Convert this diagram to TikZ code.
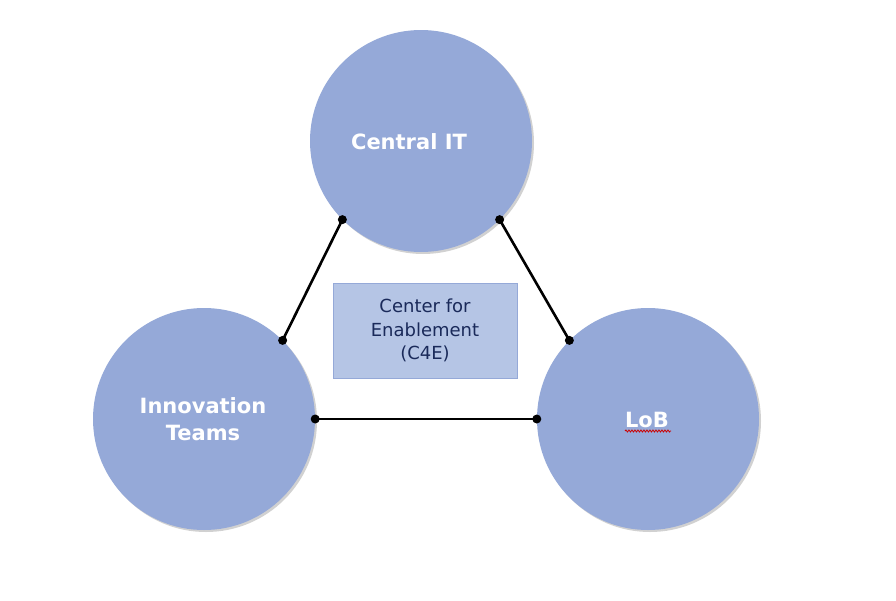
\documentclass[tikz,border=0pt]{standalone}
\usepackage{fontspec}
\setmainfont{DejaVu Sans}
\usetikzlibrary{shadows,decorations.pathmorphing}
\definecolor{circblue}{HTML}{95A9D8}
\definecolor{boxblue}{HTML}{B5C5E5}
\definecolor{navy}{HTML}{1A2A5A}
\tikzset{
  party/.style={circle, fill=circblue, minimum size=222pt, inner sep=0pt,
    drop shadow={shadow xshift=2pt, shadow yshift=-2pt, opacity=0.18, fill=black}},
  partytext/.style={text=white, font=\fontsize{21}{27}\selectfont\bfseries, align=center},
  hub/.style={rectangle, fill=boxblue, draw=circblue, line width=0.8pt,
    minimum width=184pt, minimum height=95pt, text=navy,
    font=\fontsize{18}{23.5}\selectfont, align=center},
  link/.style={line width=2.6pt, black},
  dotend/.style={circle, fill=black, inner sep=0pt, minimum size=9pt}
}
\begin{document}
\begin{tikzpicture}[x=1pt,y=-1pt]
\useasboundingbox (0,0) rectangle (896,600);
\node[party] (cit) at (421,141) {};
\node[party] (inn) at (204,419) {};
\node[party] (lob) at (648,419) {};
\node[partytext] (citlabel) at (409,142) {Central IT};
\node[partytext] (innlabel) at (203,419.5) {Innovation\\Teams};
\node[partytext] (loblabel) at (647,419.5) {LoB};
\node[hub] (c4e) at (425,330.5) {Center for\\Enablement\\(C4E)};
\draw[link] (cit.225) -- (inn.45);
\draw[link] (cit.-45) -- (lob.135);
\draw[link] (inn.0) -- (lob.180);
\foreach \p in {cit.225, inn.45, cit.-45, lob.135, inn.0, lob.180}
  \node[dotend] at (\p) {};
\coordinate (sqa) at (625,431);
\coordinate (sqb) at (671,431);
\draw[red!80!black, line width=0.8pt, decorate,
  decoration={snake, amplitude=1pt, segment length=3pt}] (sqa) -- (sqb);
\end{tikzpicture}
\end{document}
